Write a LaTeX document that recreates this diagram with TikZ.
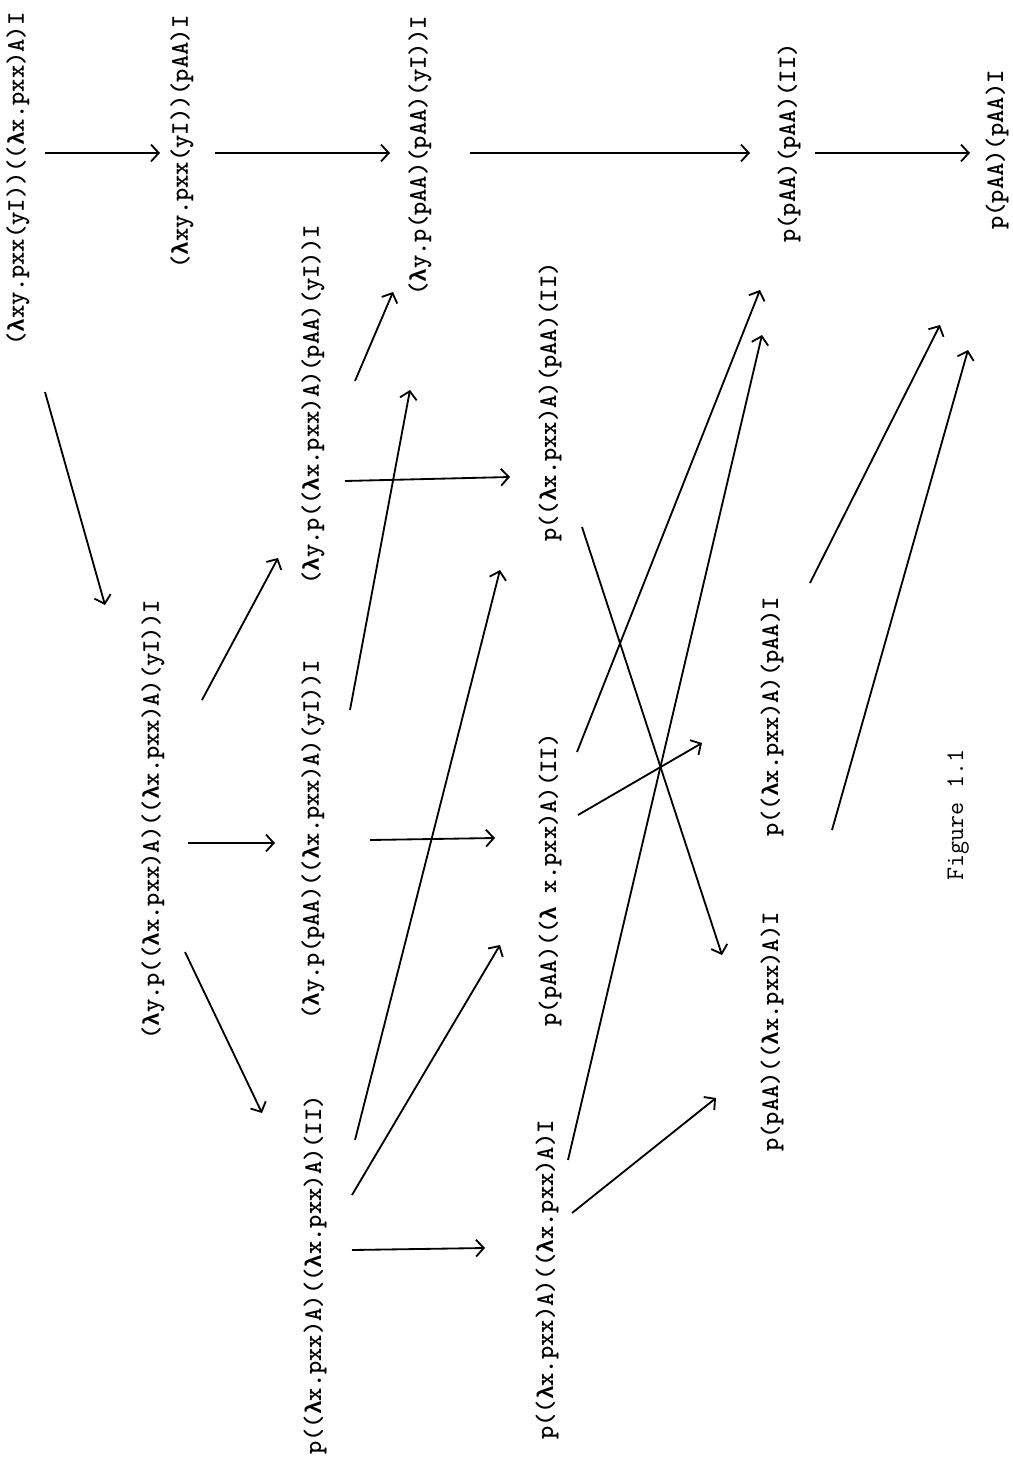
\documentclass[tikz,border=0pt]{standalone}
\usepackage{fontspec}
\newfontfamily\grk[Scale=0.9]{Liberation Mono}
\usepackage{tikz}
\usetikzlibrary{calc,arrows.meta}

\newcommand{\termfont}{\fontsize{18}{20}\selectfont\ttfamily\bfseries}
\newcommand{\lam}{{\grk\bfseries λ}}

\begin{document}
\begin{tikzpicture}[x=0.025cm, y=-0.025cm,
  term/.style={rotate=90, inner sep=0pt, font=\termfont},
  redx/.style={line width=1.3pt, -{Straight Barb[length=5.5pt,width=12pt,line width=1.3pt]}}]
\useasboundingbox (0,0) rectangle (1012,1478);
% terms, top row
\node[term] (n1) at (18,179) {(\lam xy.pxx(yI))((\lam x.pxx)A)I};
\node[term] (n2) at (182,142) {(\lam xy.pxx(yI))(pAA)I};
\node[term] (n3) at (420,156) {(\lam y.p(pAA)(pAA)(yI))I};
\node[term] (n4) at (789,143) {p(pAA)(pAA)(II)};
\node[term] (n5) at (997,150) {p(pAA)(pAA)I};
% terms, lower part
\node[term] (n6) at (153,820) {(\lam y.p((\lam x.pxx)A)((\lam x.pxx)A)(yI))I};
\node[term] (n8) at (313,405) {(\lam y.p((\lam x.pxx)A)(pAA)(yI))I};
\node[term] (n7) at (313,840) {(\lam y.p(pAA)((\lam x.pxx)A)(yI))I};
\node[term] (n11) at (315,1275) {p((\lam x.pxx)A)((\lam x.pxx)A)(II)};
\node[term] (n9) at (550,402) {p((\lam x.pxx)A)(pAA)(II)};
\node[term] (n10) at (550,880) {p(pAA)((\lam{} x.pxx)A)(II)};
\node[term] (n12) at (547,1280) {p((\lam x.pxx)A)((\lam x.pxx)A)I};
\node[term] (n13) at (772,717) {p((\lam x.pxx)A)(pAA)I};
\node[term] (n14) at (772,1032) {p(pAA)((\lam x.pxx)A)I};
\node[term, font=\fontsize{18}{20}\selectfont\ttfamily] (cap) at (958,815) {Figure 1.1};
% reductions
\draw[redx] ($(n1)+(27,-26)$) -- ($(n2)+(-22,11)$);
\draw[redx] ($(n2)+(33,11)$) -- ($(n3)+(-30,-3)$);
\draw[redx] ($(n3)+(50,-3)$) -- ($(n4)+(-39,10)$);
\draw[redx] ($(n4)+(26,10)$) -- ($(n5)+(-27,3)$);
\draw[redx] ($(n1)+(27,213)$) -- ($(n6)+(-48,-215)$);
\draw[redx] ($(n6)+(49,-120)$) -- ($(n8)+(-35,153)$);
\draw[redx] ($(n6)+(35,23)$) -- ($(n7)+(-38,3)$);
\draw[redx] ($(n6)+(32,132)$) -- ($(n11)+(-53,-162)$);
\draw[redx] ($(n8)+(42,-24)$) -- ($(n3)+(-27,136)$);
\draw[redx] ($(n8)+(32,76)$) -- ($(n9)+(-40,75)$);
\draw[redx] ($(n7)+(37,-130)$) -- ($(n3)+(-10,234)$);
\draw[redx] ($(n7)+(57,0)$) -- ($(n10)+(-55,-42)$);
\draw[redx] ($(n11)+(40,-135)$) -- ($(n9)+(-50,168)$);
\draw[redx] ($(n11)+(37,-80)$) -- ($(n10)+(-50,65)$);
\draw[redx] ($(n11)+(37,-25)$) -- ($(n12)+(-62,-32)$);
\draw[redx] ($(n9)+(32,125)$) -- ($(n14)+(-50,-77)$);
\draw[redx] ($(n10)+(27,-128)$) -- ($(n4)+(-29,147)$);
\draw[redx] ($(n10)+(28,-65)$) -- ($(n13)+(-70,26)$);
\draw[redx] ($(n12)+(21,-120)$) -- ($(n4)+(-27,192)$);
\draw[redx] ($(n12)+(25,-67)$) -- ($(n14)+(-56,66)$);
\draw[redx] ($(n13)+(38,-134)$) -- ($(n5)+(-57,175)$);
\draw[redx] ($(n14)+(60,-202)$) -- ($(n5)+(-29,200)$);
\end{tikzpicture}
\end{document}
